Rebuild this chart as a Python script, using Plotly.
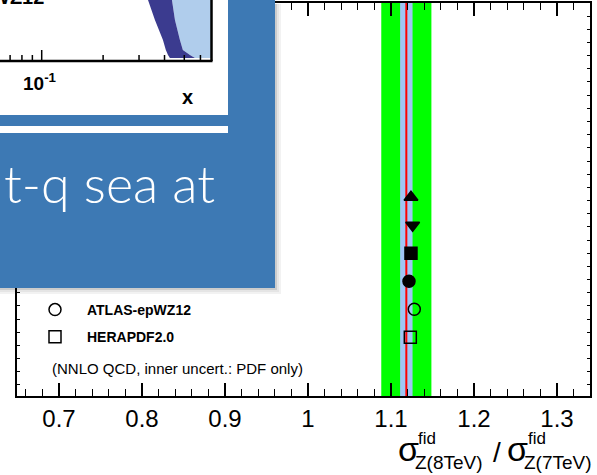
import plotly.graph_objects as go
import math

# ---------------- data ----------------
models = ["ABM12", "CT14", "MMHT14", "NNPDF3.0", "ATLAS-epWZ12", "HERAPDF2.0"]
ratio_pred = [1.1241, 1.1261, 1.1241, 1.1217, 1.1281, 1.1233]
row_index = [7, 6, 5, 4, 3, 2]
symbols = ["triangle-up", "triangle-down", "square", "circle", "circle-open", "square-open"]
legend_visible = [False, False, False, False, True, True]

meas_central = 1.1185
meas_inner = 0.0075   # inner band half-width
meas_outer = 0.0302   # outer band half-width

x_range = [0.6494, 1.3398]
y_range = [-0.1, 13.94]

# inset (slide overlay) PDF band, inset x values (log axis)
inset_dark_left = [0.332, 0.359, 0.393, 0.406, 0.416, 0.425]
inset_dark_right = [0.435, 0.450, 0.476, 0.492, 0.533, 0.564]
inset_row_px = [0, 20, 40, 50, 55, 58]
inset_xmax = 0.681
inset_minor = [0.07, 0.08, 0.09, 0.2, 0.3, 0.4, 0.5, 0.6]

# ---------------- geometry helpers ----------------
W, H = 597, 475
PL, PR, PT, PB = 17, 590, 3, 396


def px_x(p):
    return (p - PL) / (PR - PL)


def px_y(p):
    return (PB - p) / (PB - PT)


def inset_px(xv):
    return 41.7 + 204 * math.log10(xv / 0.1)


fig = go.Figure()

# measurement bands
shapes = []
shapes.append(dict(type="rect", xref="x", yref="paper", x0=meas_central - meas_outer,
                   x1=meas_central + meas_outer, y0=0, y1=1, fillcolor="#00ff00",
                   line_width=0, layer="below"))
shapes.append(dict(type="rect", xref="x", yref="paper", x0=meas_central - meas_inner,
                   x1=meas_central + meas_inner, y0=0, y1=1, fillcolor="#9fc5f5",
                   line_width=0, layer="below"))
shapes.append(dict(type="line", xref="x", yref="paper", x0=meas_central, x1=meas_central,
                   y0=0, y1=1, line=dict(color="#ff0000", width=2), layer="below"))

for name, xv, yv, sym, lv in zip(models, ratio_pred, row_index, symbols, legend_visible):
    fig.add_trace(go.Scatter(
        x=[xv], y=[yv], mode="markers", name=name, showlegend=lv,
        legendgroup=name,
        marker=dict(symbol=sym, size=12, color="black",
                    line=dict(color="black", width=1.5)),
    ))

# ---------------- slide overlay ----------------
BLUE = "#3d79b4"


def prect(x0, y0, x1, y1, color, opacity=1.0):
    return dict(type="rect", xref="paper", yref="paper", x0=px_x(x0), x1=px_x(x1),
                y0=px_y(y1), y1=px_y(y0), fillcolor=color, opacity=opacity,
                line_width=0, layer="above")


# shadow
for i, op in enumerate([0.2, 0.1, 0.05]):
    shapes.append(prect(275 + 2 * i, 4, 277 + 2 * i, 288 + 2 * i, "black", op))
    shapes.append(prect(-5, 288 + 2 * i, 277 + 2 * i, 290 + 2 * i, "black", op))
shapes.append(prect(-5, -5, 275, 288, BLUE))
shapes.append(prect(-5, -5, 228, 115, "white"))
shapes.append(prect(-5, 126, 228, 133, "white"))

# inset bands
dark_pts = [(inset_px(x), y) for x, y in zip(inset_dark_left, inset_row_px)]
dark_pts += [(inset_px(x), y) for x, y in reversed(list(zip(inset_dark_right, inset_row_px)))]
light_pts = [(inset_px(x), y) for x, y in zip(inset_dark_right, inset_row_px)]
light_pts += [(inset_px(inset_xmax), inset_row_px[-1]), (inset_px(inset_xmax), -5),
              (inset_px(inset_dark_right[0]), -5)]
dark_pts = [(inset_px(inset_dark_left[0]), -5)] + dark_pts + [(inset_px(inset_dark_right[0]), -5)]


def path_of(pts):
    return "M " + " L ".join(f"{px_x(a):.5f},{px_y(b):.5f}" for a, b in pts) + " Z"


shapes.append(dict(type="path", xref="paper", yref="paper", path=path_of(light_pts),
                   fillcolor="#b0cdec", line_width=0, layer="above"))
shapes.append(dict(type="path", xref="paper", yref="paper", path=path_of(dark_pts),
                   fillcolor="#3b3b8f", line_width=0, layer="above"))


def pline(x0, y0, x1, y1, w):
    return dict(type="line", xref="paper", yref="paper", x0=px_x(x0), x1=px_x(x1),
                y0=px_y(y0), y1=px_y(y1), line=dict(color="black", width=w), layer="above")


shapes.append(pline(-5, 61, 212.5, 61, 2.5))
shapes.append(pline(211.5, -5, 211.5, 61, 2.5))
shapes.append(pline(inset_px(0.1), 61, inset_px(0.1), 50, 1.5))
for m in inset_minor:
    shapes.append(pline(inset_px(m), 61, inset_px(m), 55, 1.5))


def ann(x, y, text, size, xanchor="center", yanchor="middle", family="Liberation Sans",
        color="black", weight="normal"):
    return dict(xref="paper", yref="paper", x=px_x(x), y=px_y(y), text=text,
                xanchor=xanchor, yanchor=yanchor, showarrow=False,
                font=dict(family=family, size=size, color=color, weight=weight))


annotations = [
    ann(40, 82, "<b>10<sup>-1</sup></b>", 19),
    ann(187, 97, "<b>x</b>", 20),
    ann(46, -3, "<b>WZ12</b>", 20, xanchor="right", yanchor="middle"),
    ann(217, 183, "t-q sea at", 52, xanchor="right", family="Lato", color="white", weight=300),
    # legend note
    ann(50, 368, "(NNLO QCD, inner uncert.: PDF only)", 15, xanchor="left"),
    # axis title
    ann(396, 449, "σ", 34, xanchor="left"),
    ann(416, 439, "fid", 17, xanchor="left"),
    ann(413, 462, "Z(8TeV)", 19, xanchor="left"),
    ann(491, 452, "/", 28, xanchor="left"),
    ann(505, 449, "σ", 34, xanchor="left"),
    ann(526, 439, "fid", 17, xanchor="left"),
    ann(522, 462, "Z(7TeV)", 19, xanchor="left"),
]

fig.update_layout(
    width=W, height=H,
    margin=dict(l=PL, r=W - PR, t=PT, b=H - PB, pad=0, autoexpand=False),
    paper_bgcolor="white", plot_bgcolor="white",
    shapes=shapes, annotations=annotations,
    showlegend=True,
    legend=dict(x=px_x(23), y=px_y(294), xanchor="left", yanchor="top",
                bgcolor="rgba(0,0,0,0)", itemwidth=54, tracegroupgap=6,
                font=dict(family="Liberation Sans", size=14, color="black", weight="bold")),
    xaxis=dict(range=x_range, showgrid=False, zeroline=False,
               showline=True, linecolor="black", linewidth=2, mirror="ticks",
               ticks="inside", ticklen=13, tickwidth=1.5, tickcolor="black",
               dtick=0.1, tick0=0, tickformat="~g",
               tickfont=dict(family="Liberation Sans", size=24, color="black"),
               minor=dict(ticks="inside", ticklen=7, tickwidth=1.2, tickcolor="black", dtick=0.02, showgrid=False)),
    yaxis=dict(range=y_range, showgrid=False, zeroline=False,
               showline=True, linecolor="black", linewidth=2, mirror="ticks",
               ticks="inside", ticklen=3, tickwidth=1, tickcolor="black",
               tick0=13.0, dtick=0.4705, showticklabels=False),
)

fig.write_html("out.html")
